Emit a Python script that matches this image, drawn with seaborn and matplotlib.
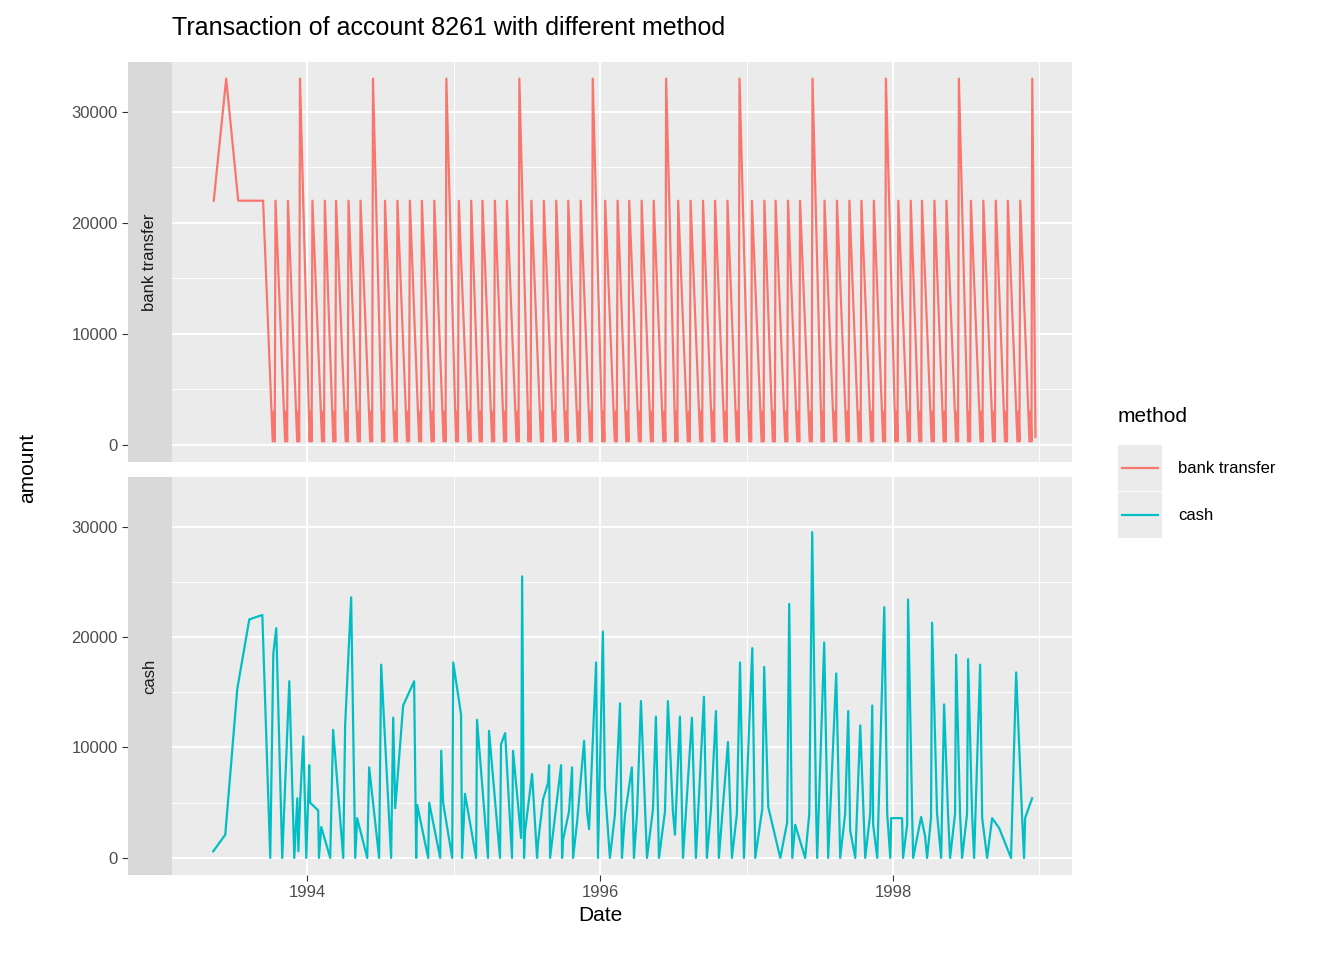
import numpy as np
import pandas as pd
import seaborn as sns
import matplotlib.pyplot as plt
from matplotlib.lines import Line2D
from matplotlib.patches import Rectangle

# bank transfer: monthly standing order, bigger in June / December
bank_early_dates = ["1993-05-13", "1993-06-13", "1993-07-13", "1993-08-13", "1993-09-13"]
bank_early_amounts = [22000, 33000, 22000, 22000, 22000]
bank_months = pd.period_range("1993-10", "1998-12", freq="M")
bank_peaks = [22000, 22000, 33000,
              22000, 22000, 22000, 22000, 22000, 33000, 22000, 22000, 22000, 22000, 22000, 33000,
              22000, 22000, 22000, 22000, 22000, 33000, 22000, 22000, 22000, 22000, 22000, 33000,
              22000, 22000, 22000, 22000, 22000, 33000, 22000, 22000, 22000, 22000, 22000, 33000,
              22000, 22000, 22000, 22000, 22000, 33000, 22000, 22000, 22000, 22000, 22000, 33000,
              22000, 22000, 22000, 22000, 22000, 33000, 22000, 22000, 22000, 22000, 22000, 33000]
bank_small = [300, 3000, 300]          # small transfers at days 7, 10, 12
bank_small_days = [7, 10, 12]

# cash transactions (decimal year, amount)
cash = [
    (1993.358, 600), (1993.440, 2100), (1993.522, 15300), (1993.604, 21600), (1993.693, 22000),
    (1993.747, 0), (1993.768, 18500), (1993.788, 20800), (1993.829, 0), (1993.877, 16000),
    (1993.911, 0), (1993.932, 5400), (1993.939, 600), (1993.952, 5400), (1993.973, 11000),
    (1993.993, 0), (1994.014, 8400), (1994.020, 5000), (1994.075, 4300), (1994.080, 0),
    (1994.096, 2800), (1994.157, 0), (1994.177, 11600), (1994.246, 0), (1994.259, 12000),
    (1994.300, 23600), (1994.328, 0), (1994.341, 3600), (1994.410, 0), (1994.423, 8200),
    (1994.491, 0), (1994.505, 17500), (1994.573, 0), (1994.587, 12700), (1994.601, 4500),
    (1994.655, 13800), (1994.730, 16000), (1994.744, 0), (1994.751, 4800), (1994.826, 0),
    (1994.833, 5000), (1994.908, 0), (1994.915, 9700), (1994.928, 5000), (1994.990, 0),
    (1994.997, 17700), (1995.051, 13000), (1995.058, 0), (1995.078, 5800), (1995.154, 0),
    (1995.160, 12500), (1995.235, 0), (1995.242, 11500), (1995.317, 0), (1995.324, 10300),
    (1995.352, 11300), (1995.399, 0), (1995.406, 9700), (1995.461, 1800), (1995.468, 25500),
    (1995.481, 0), (1995.488, 2400), (1995.536, 7600), (1995.570, 0), (1995.577, 1400),
    (1995.611, 5300), (1995.645, 6800), (1995.652, 8400), (1995.659, 0), (1995.734, 8400),
    (1995.741, 0), (1995.747, 1600), (1995.788, 4200), (1995.809, 8200), (1995.816, 0),
    (1995.843, 3200), (1995.891, 10600), (1995.911, 4200), (1995.925, 2600), (1995.973, 17700),
    (1995.986, 0), (1996.020, 20500), (1996.034, 6400), (1996.068, 0), (1996.102, 3900),
    (1996.137, 14000), (1996.150, 0), (1996.171, 3900), (1996.218, 8200), (1996.232, 0),
    (1996.253, 4000), (1996.280, 14200), (1996.321, 0), (1996.362, 4400), (1996.382, 12800),
    (1996.403, 0), (1996.444, 4200), (1996.464, 14200), (1996.498, 4200), (1996.512, 2100),
    (1996.546, 12800), (1996.567, 0), (1996.628, 12700), (1996.655, 0), (1996.710, 14600),
    (1996.730, 0), (1996.758, 4400), (1996.792, 13300), (1996.812, 0), (1996.874, 10500),
    (1996.901, 0), (1996.935, 4000), (1996.956, 17700), (1996.983, 0), (1997.038, 19000),
    (1997.058, 0), (1997.106, 4400), (1997.119, 17300), (1997.147, 4600), (1997.229, 0),
    (1997.276, 3200), (1997.290, 23000), (1997.311, 0), (1997.331, 3000), (1997.399, 0),
    (1997.427, 4000), (1997.447, 29500), (1997.474, 4000), (1997.481, 0), (1997.529, 19500),
    (1997.556, 0), (1997.611, 16700), (1997.638, 0), (1997.672, 4000), (1997.693, 13300),
    (1997.706, 2500), (1997.741, 0), (1997.775, 12000), (1997.809, 0), (1997.843, 4000),
    (1997.857, 13800), (1997.863, 3000), (1997.891, 0), (1997.939, 22700), (1997.959, 4000),
    (1997.980, 0), (1997.986, 3600), (1998.061, 3600), (1998.068, 0), (1998.096, 3000),
    (1998.102, 23400), (1998.130, 4000), (1998.137, 0), (1998.191, 3700), (1998.218, 2000),
    (1998.232, 0), (1998.259, 3600), (1998.266, 21300), (1998.300, 4000), (1998.328, 0),
    (1998.348, 13900), (1998.375, 4000), (1998.389, 0), (1998.423, 4000), (1998.430, 18400),
    (1998.457, 4000), (1998.471, 0), (1998.505, 4000), (1998.512, 18000), (1998.539, 4000),
    (1998.553, 0), (1998.594, 17500), (1998.608, 3600), (1998.642, 0), (1998.676, 3600),
    (1998.724, 2700), (1998.805, 0), (1998.840, 16800), (1998.881, 3600), (1998.894, 0),
    (1998.901, 3600), (1998.949, 5400),
]
cash_year = [c[0] for c in cash]
cash_amount = [c[1] for c in cash]


def year_to_date(y):
    y0 = int(np.floor(y))
    start = pd.Timestamp(f"{y0}-01-01")
    return start + pd.Timedelta(days=(y - y0) * 365.25)


# build long table
rows = [(pd.Timestamp(d), a, "bank transfer") for d, a in zip(bank_early_dates, bank_early_amounts)]
for m, p in zip(bank_months, bank_peaks):
    for day, a in zip(bank_small_days, bank_small):
        rows.append((pd.Timestamp(year=m.year, month=m.month, day=day), a, "bank transfer"))
    rows.append((pd.Timestamp(year=m.year, month=m.month, day=14), p, "bank transfer"))
rows.append((pd.Timestamp("1998-12-22"), 700, "bank transfer"))
for y, a in zip(cash_year, cash_amount):
    rows.append((year_to_date(y), a, "cash"))
df = pd.DataFrame(rows, columns=["Date", "amount", "method"])

colors = {"bank transfer": "#F8766D", "cash": "#00BFC4"}
plt.rcParams["font.family"] = ["Liberation Sans", "DejaVu Sans"]

W, H = 1344, 960
fig = plt.figure(figsize=(13.44, 9.6), dpi=100)


def fbox(x0, y0, x1, y1):
    return [x0 / W, 1 - y1 / H, (x1 - x0) / W, (y1 - y0) / H]


xlim = (year_to_date(1992.778), year_to_date(1999.222))
panels = [("bank transfer", 62, 462), ("cash", 477, 875)]
for i, (meth, top, bot) in enumerate(panels):
    ax = fig.add_axes(fbox(128, top, 1072, bot))
    ax.set_facecolor("#EBEBEB")
    sub = df[df["method"] == meth].sort_values("Date")
    sns.lineplot(data=sub, x="Date", y="amount", color=colors[meth], linewidth=1.6,
                 ax=ax, legend=False, estimator=None, sort=False)
    ax.set_xlim(xlim)
    ax.set_ylim(-1550, 34500)
    ax.set_yticks([0, 10000, 20000, 30000])
    ax.set_yticks([5000, 15000, 25000], minor=True)
    ax.set_xticks([pd.Timestamp(f"{y}-01-01") for y in (1994, 1996, 1998)])
    ax.set_xticks([pd.Timestamp(f"{y}-01-01") for y in (1993, 1995, 1997, 1999)], minor=True)
    ax.grid(which="major", color="white", linewidth=1.4)
    ax.grid(which="minor", color="white", linewidth=0.7)
    ax.set_axisbelow(True)
    for s in ax.spines.values():
        s.set_visible(False)
    ax.tick_params(which="major", length=4, color="#333333", labelsize=12, labelcolor="#4D4D4D")
    ax.tick_params(which="minor", length=0)
    ax.set_ylabel("")
    ax.set_xlabel("")
    if i == 0:
        ax.tick_params(axis="x", labelbottom=False, length=0)
    else:
        ax.set_xticklabels(["1994", "1996", "1998"])
        ax.set_xlabel("Date", fontsize=15, labelpad=4)
    # strip drawn over the left side of the panel
    sax = fig.add_axes(fbox(128, top, 172, bot))
    sax.set_facecolor("#D9D9D9")
    sax.set_xticks([])
    sax.set_yticks([])
    for s in sax.spines.values():
        s.set_visible(False)
    sax.text(0.5, 0.5, meth, rotation=90, ha="center", va="center", fontsize=12,
             color="#1A1A1A", transform=sax.transAxes)

fig.text(28 / W, 1 - 468 / H, "amount", rotation=90, ha="center", va="center", fontsize=15)
fig.text(172 / W, 1 - 28 / H, "Transaction of account 8261 with different method",
         ha="left", va="center", fontsize=18)

# legend
fig.text(1118 / W, 1 - 416 / H, "method", ha="left", va="center", fontsize=15)
for j, (meth, yc) in enumerate([("bank transfer", 468), ("cash", 515)]):
    fig.patches.append(Rectangle(((1118) / W, 1 - (yc + 23) / H), 44 / W, 46 / H,
                                 transform=fig.transFigure, facecolor="#EBEBEB",
                                 edgecolor="none"))
    fig.lines.append(Line2D([1122 / W, 1158 / W], [1 - yc / H, 1 - yc / H],
                            transform=fig.transFigure, color=colors[meth], linewidth=1.6))
    fig.text(1178 / W, 1 - yc / H, meth, ha="left", va="center", fontsize=12)

fig.savefig("out.png", dpi=100)
